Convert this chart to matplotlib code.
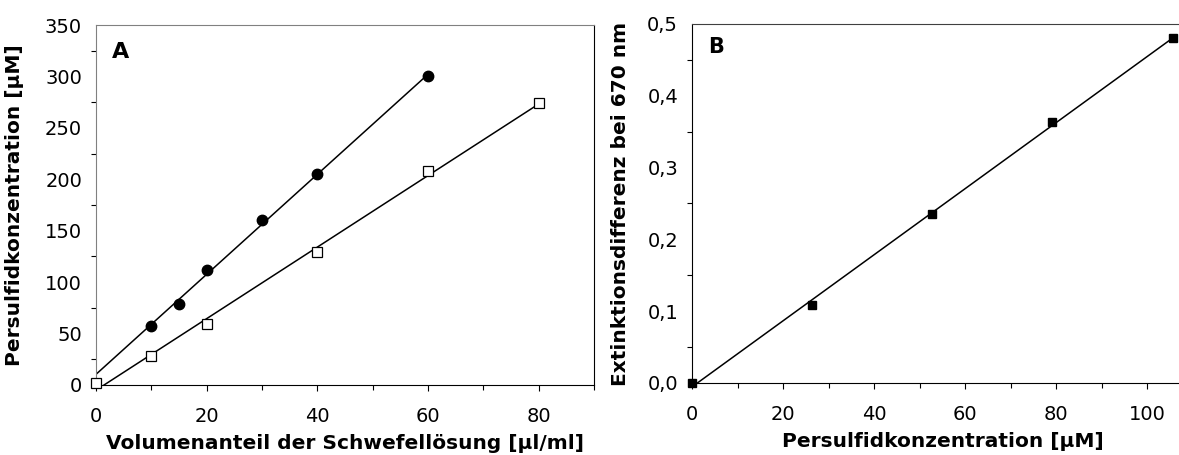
import numpy as np
import matplotlib
matplotlib.use("Agg")
import matplotlib.pyplot as plt
from matplotlib.ticker import MultipleLocator, FuncFormatter

# Panel A: persulfide concentration vs. volume fraction of sulfur solution
a_circle_x = [10, 15, 20, 30, 40, 60]
a_circle_y = [57, 79, 112, 160, 205, 300]
a_square_x = [0, 10, 20, 40, 60, 80]
a_square_y = [2, 28, 59, 129, 208, 274]

# Panel B: extinction difference at 670 nm vs. persulfide concentration
b_x = [0, 26.3, 52.8, 79.2, 105.6]
b_y = [0.0, 0.108, 0.236, 0.363, 0.480]

plt.rcParams["font.family"] = ["DejaVu Sans"]
plt.rcParams["font.size"] = 14

fig = plt.figure(figsize=(11.79, 4.55), dpi=100)
axA = fig.add_axes([96 / 1179, 70 / 455, 498 / 1179, 360 / 455])
axB = fig.add_axes([692 / 1179, 72 / 455, 487 / 1179, 359 / 455])


def fit_line(ax, xs, ys, x_start, x_end):
    k, d = np.polyfit(xs, ys, 1)
    xx = np.array([x_start, x_end])
    ax.plot(xx, k * xx + d, color="black", lw=1.1, zorder=2)


# --- Panel A ---
fit_line(axA, a_circle_x, a_circle_y, 0, a_circle_x[-1])
fit_line(axA, a_square_x, a_square_y, 0, a_square_x[-1])
axA.plot(a_circle_x, a_circle_y, "o", color="black", ms=7.5, zorder=3, clip_on=False)
axA.plot(a_square_x, a_square_y, "s", mfc="white", mec="black", mew=0.9, ms=6.5,
         zorder=3, clip_on=False)
axA.set_xlim(0, 90)
axA.set_ylim(0, 350)
axA.xaxis.set_minor_locator(MultipleLocator(10))
axA.yaxis.set_major_locator(MultipleLocator(50))
axA.yaxis.set_minor_locator(MultipleLocator(25))
axA.set_xticks([0, 20, 40, 60, 80])
axA.set_xlabel("Volumenanteil der Schwefellösung [µl/ml]", fontweight="bold", fontsize=14.5)
axA.xaxis.set_label_coords(0.5, -0.136)
axA.set_ylabel("Persulfidkonzentration [µM]", fontweight="bold", fontsize=14.5)
axA.yaxis.set_label_coords(-0.145, 0.5)
axA.text(0.032, 0.925, "A", transform=axA.transAxes, fontweight="bold", fontsize=16,
         va="center", ha="left")
for s in ["top", "left"]:
    axA.spines[s].set_color("#808080")

# --- Panel B ---
fit_line(axB, b_x, b_y, 0, b_x[-1])
axB.plot(b_x, b_y, "s", color="black", ms=5.5, zorder=3, clip_on=False)
axB.set_xlim(0, 107)
axB.set_ylim(0, 0.5)
axB.xaxis.set_major_locator(MultipleLocator(20))
axB.xaxis.set_minor_locator(MultipleLocator(10))
axB.yaxis.set_major_locator(MultipleLocator(0.1))
axB.yaxis.set_minor_locator(MultipleLocator(0.05))
axB.yaxis.set_major_formatter(FuncFormatter(lambda v, p: f"{v:.1f}".replace(".", ",")))
axB.set_xlabel("Persulfidkonzentration [µM]", fontweight="bold", fontsize=14.5)
axB.xaxis.set_label_coords(0.515, -0.136)
axB.set_ylabel("Extinktionsdifferenz bei 670 nm", fontweight="bold", fontsize=14.5)
axB.yaxis.set_label_coords(-0.127, 0.5)
axB.text(0.033, 0.935, "B", transform=axB.transAxes, fontweight="bold", fontsize=15,
         va="center", ha="left")
axB.spines["top"].set_color("#404040")
axB.spines["right"].set_visible(False)

for ax in (axA, axB):
    ax.tick_params(which="major", direction="out", length=4, width=0.8, labelsize=14)
    ax.tick_params(which="minor", direction="out", length=3.5, width=0.8)
    ax.tick_params(axis="x", which="major", pad=12)
    ax.tick_params(axis="y", which="major", length=0, pad=10)

fig.savefig("out.png", dpi=100)
